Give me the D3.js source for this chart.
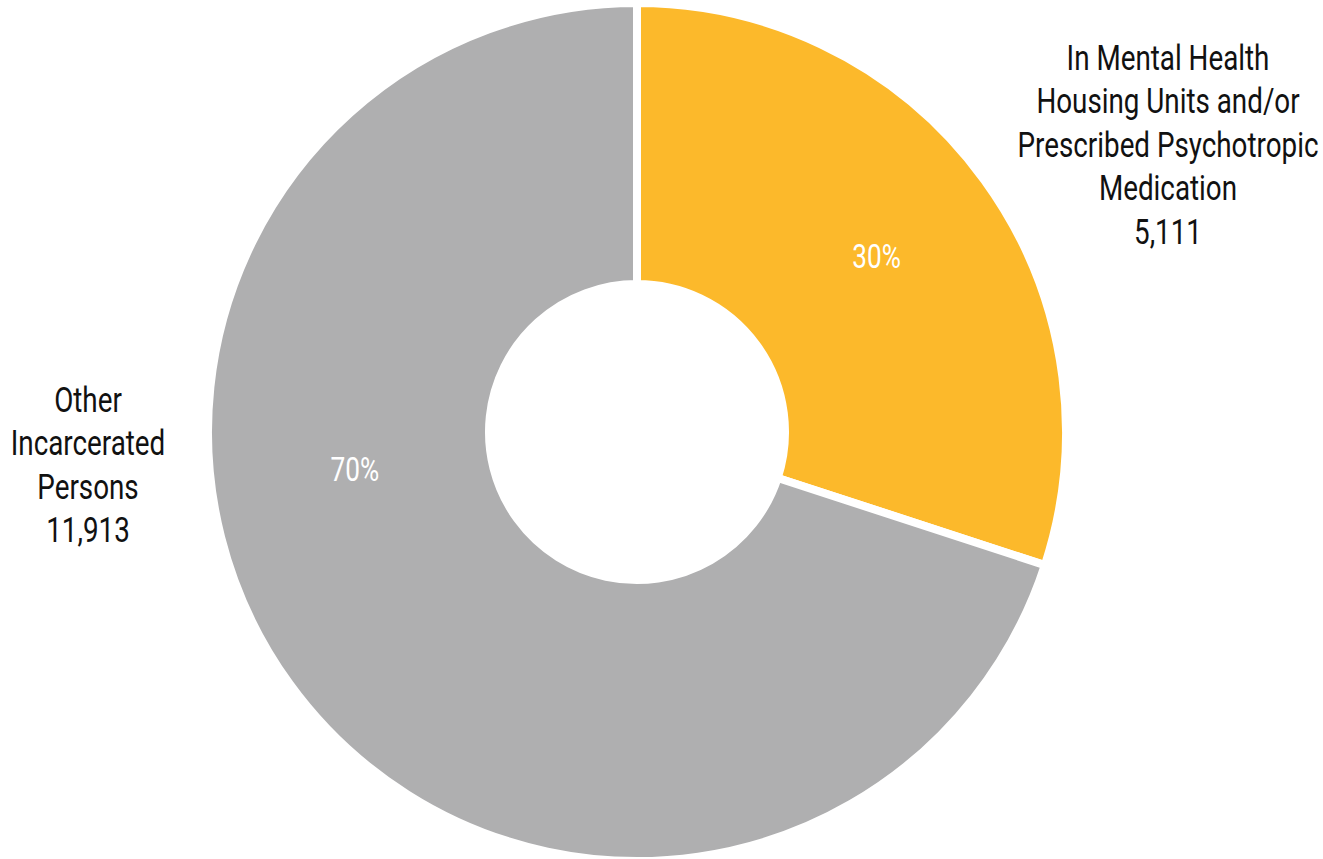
<!DOCTYPE html>
<html>
<head>
<meta charset="utf-8">
<script src="https://cdn.jsdelivr.net/npm/d3@7"></script>
<style>
  body { margin: 0; background: #fff; }
  text { font-family: "Roboto", "DejaVu Sans", sans-serif; }
</style>
</head>
<body>
<div id="vis-container"></div>
<script>
// data
const categories = ["In Mental Health Housing Units and/or Prescribed Psychotropic Medication", "Other Incarcerated Persons"];
const labelLines = [
  ["In Mental Health", "Housing Units and/or", "Prescribed Psychotropic", "Medication"],
  ["Other", "Incarcerated", "Persons"]
];
const counts = [5111, 11913];
const colors = ["#FCB92B", "#AFAFB0"];

let width = 1323;
let height = 859;
let cx = 637, cy = 432;
let outerR = 429, innerR = 148;

var svg = d3.select("#vis-container").append("svg")
    .attr("width", width)
    .attr("height", height);

// the original uses a condensed face; squeeze Roboto horizontally to match its width
let fontSize = 35;
let probe = svg.append("text").attr("font-size", fontSize).text("Prescribed Psychotropic");
let squeeze = 301 / probe.node().getComputedTextLength();
probe.remove();

let g = svg.append("g").attr("transform", "translate(" + cx + "," + cy + ")");

let pie = d3.pie().sort(null).value(d => d);
let arcs = pie(counts);
let total = d3.sum(counts);

let arc = d3.arc().innerRadius(innerR).outerRadius(outerR);

g.selectAll("path.slice")
  .data(arcs)
  .enter().append("path")
  .attr("class", "slice")
  .attr("d", arc)
  .attr("fill", (d, i) => colors[i])
  .attr("stroke", "#fff")
  .attr("stroke-width", 8)
  .attr("stroke-linejoin", "miter");

// percent labels; the big slice's label sits lower than its centroid in the original
let labelR = [296, 285];
let labelAngleShift = [0, 28 * Math.PI / 180];
let fmtPct = d3.format(".0%");
g.selectAll("text.pct")
  .data(arcs)
  .enter().append("text")
  .attr("class", "pct")
  .attr("transform", (d, i) => {
    let a = (d.startAngle + d.endAngle) / 2 + labelAngleShift[i];
    return "translate(" + (Math.sin(a) * labelR[i]) + "," + (-Math.cos(a) * labelR[i]) + ") scale(" + squeeze + ",1)";
  })
  .attr("text-anchor", "middle")
  .attr("dy", "0.3em")
  .attr("fill", "#fff")
  .attr("font-size", 33)
  .text(d => fmtPct(d.value / total));

// outside category labels
let fmtNum = d3.format(",");
let labelPos = [{x: 1168, y: 70}, {x: 88, y: 412}];
let lineH = 43.5;
labelLines.forEach((lines, i) => {
  let t = svg.append("text")
    .attr("transform", "translate(" + labelPos[i].x + "," + labelPos[i].y + ") scale(" + squeeze + ",1)")
    .attr("text-anchor", "middle")
    .attr("fill", "#111")
    .attr("font-size", fontSize);
  lines.concat([fmtNum(counts[i])]).forEach((ln, j) => {
    t.append("tspan")
      .attr("x", 0)
      .attr("y", j * lineH)
      .text(ln);
  });
});
</script>
</body>
</html>
